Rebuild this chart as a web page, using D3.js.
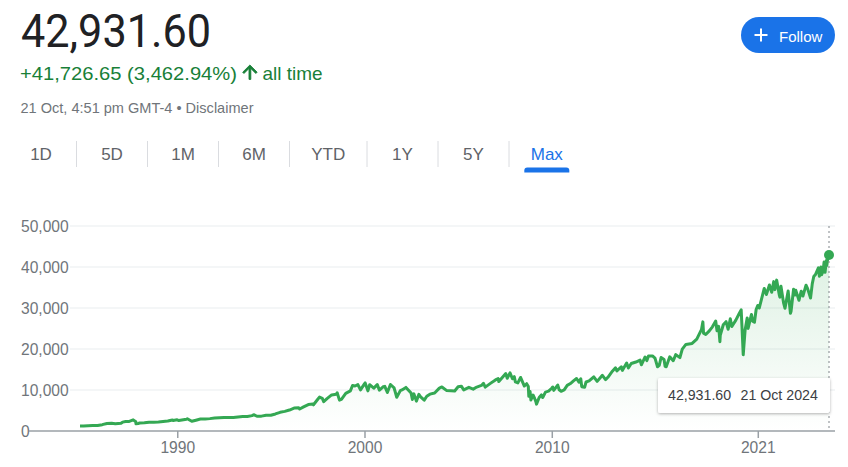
<!DOCTYPE html>
<html>
<head>
<meta charset="utf-8">
<script src="https://cdn.jsdelivr.net/npm/d3@7"></script>
<style>
  body { margin: 0; background: #fff; }
  svg { display: block; font-family: "Liberation Sans", Arial, sans-serif; }
</style>
</head>
<body>
<svg id="chart" width="848" height="467"></svg>
<script>
// closing values (approximate), with their dates
const dates = [
  "1984-10-22","1984-12-31","1985-03-29","1985-06-28","1985-09-30","1985-12-31",
  "1986-03-31","1986-06-30","1986-09-11","1986-12-31","1987-01-30","1987-03-31",
  "1987-05-29","1987-08-25","1987-10-16","1987-10-19","1987-11-30","1987-12-31",
  "1988-03-31","1988-06-30","1988-09-30","1988-12-30","1989-03-31","1989-06-30",
  "1989-09-29","1989-10-13","1989-12-29","1990-01-30","1990-06-29","1990-07-16",
  "1990-10-11","1990-12-31","1991-03-28","1991-06-28","1991-09-30","1991-12-31",
  "1992-03-31","1992-06-30","1992-09-30","1992-12-31","1993-03-31","1993-06-30",
  "1993-09-30","1993-12-31","1994-01-31","1994-04-04","1994-06-30","1994-09-30",
  "1994-12-30","1995-03-31","1995-06-30","1995-09-29","1995-12-29","1996-03-29",
  "1996-06-28","1996-07-16","1996-09-30","1996-12-31","1997-03-31","1997-04-11",
  "1997-06-30","1997-08-06","1997-09-30","1997-10-27","1997-12-31","1998-03-31",
  "1998-06-30","1998-07-17","1998-08-31","1998-10-08","1998-12-31","1999-03-31",
  "1999-05-13","1999-06-30","1999-08-25","1999-10-15","1999-12-31","2000-01-14",
  "2000-03-07","2000-04-11","2000-06-30","2000-09-06","2000-10-18","2000-12-29",
  "2001-01-31","2001-03-22","2001-05-21","2001-07-31","2001-09-21","2001-11-30",
  "2001-12-31","2002-03-19","2002-06-28","2002-07-23","2002-08-22","2002-10-09",
  "2002-11-27","2002-12-31","2003-03-11","2003-04-30","2003-06-30","2003-09-30",
  "2003-12-31","2004-02-19","2004-05-17","2004-08-13","2004-10-25","2004-12-31",
  "2005-03-04","2005-04-20","2005-07-29","2005-10-21","2005-12-30","2006-03-31",
  "2006-05-10","2006-06-13","2006-09-29","2006-12-29","2007-02-20","2007-03-05",
  "2007-07-19","2007-08-16","2007-10-09","2007-11-26","2007-12-31","2008-01-22",
  "2008-03-10","2008-05-02","2008-07-15","2008-08-29","2008-09-30","2008-10-10",
  "2008-11-04","2008-11-20","2008-12-31","2009-01-30","2009-02-27","2009-03-09",
  "2009-04-30","2009-06-12","2009-07-08","2009-08-31","2009-10-30","2009-12-31",
  "2010-01-19","2010-02-08","2010-04-26","2010-05-25","2010-07-02","2010-08-31",
  "2010-10-29","2010-12-31","2011-02-28","2011-04-29","2011-06-15","2011-07-21",
  "2011-08-08","2011-10-03","2011-10-31","2011-12-30","2012-03-30","2012-06-04",
  "2012-09-14","2012-11-15","2012-12-31","2013-03-28","2013-05-28","2013-06-24",
  "2013-09-18","2013-10-08","2013-12-31","2014-02-03","2014-03-31","2014-06-30",
  "2014-09-19","2014-10-15","2014-12-26","2015-01-30","2015-03-02","2015-05-19",
  "2015-07-07","2015-08-25","2015-09-28","2015-11-03","2015-12-31","2016-01-20",
  "2016-02-11","2016-04-20","2016-06-27","2016-08-15","2016-11-04","2016-12-20",
  "2017-03-01","2017-06-30","2017-09-29","2017-12-29","2018-01-26","2018-02-08",
  "2018-03-23","2018-05-31","2018-07-31","2018-10-03","2018-10-29","2018-11-30",
  "2018-12-24","2018-12-31","2019-02-28","2019-04-23","2019-06-03","2019-07-15",
  "2019-08-14","2019-10-31","2019-12-31","2020-02-12","2020-02-28","2020-03-23",
  "2020-04-29","2020-06-08","2020-06-26","2020-08-31","2020-09-23","2020-10-28",
  "2020-11-30","2020-12-31","2021-01-29","2021-03-31","2021-05-07","2021-06-18",
  "2021-08-16","2021-09-30","2021-11-08","2021-11-30","2021-12-29","2022-01-04",
  "2022-02-24","2022-03-08","2022-03-29","2022-05-19","2022-06-16","2022-08-16",
  "2022-09-30","2022-10-12","2022-11-30","2022-12-13","2022-12-30","2023-01-13",
  "2023-03-15","2023-04-28","2023-05-31","2023-07-31","2023-08-31","2023-10-27",
  "2023-11-30","2023-12-29","2024-01-31","2024-03-28","2024-04-17","2024-05-17",
  "2024-05-30","2024-06-28","2024-07-17","2024-08-05","2024-08-30","2024-09-06",
  "2024-09-30","2024-10-21"
];
const closes = [
  1204.95,1212,1267,1336,1329,1547,
  1819,1893,1758,1896,2158,2305,
  2292,2722,2247,1739,1834,1939,
  1989,2142,2113,2169,2294,2440,
  2693,2569,2753,2543,2881,2999,
  2365,2634,2914,2907,3017,3169,
  3236,3319,3272,3301,3436,3516,
  3555,3754,3978,3594,3625,3843,
  3834,4158,4556,4789,5117,5588,
  5655,5350,5882,6448,6584,6392,
  7673,8259,7945,7161,7908,8800,
  8952,9338,7539,7731,9181,9786,
  11107,10971,11326,10020,11497,11723,
  9796,11287,10448,11310,9975,10787,
  10887,9389,11337,10523,8236,9852,
  10022,10635,9243,7702,9054,7286,
  8932,8342,7524,8480,8985,9275,
  10454,10737,9907,9825,9750,10783,
  10941,10012,10641,10215,10718,11109,
  11642,10706,11679,12463,12786,12050,
  14000,12846,14165,12743,13265,11971,
  11740,13058,10963,11544,10851,8451,
  9625,7552,8776,8001,7063,6547,
  8168,8799,8179,9496,9713,10428,
  10725,9908,11205,10044,9686,10015,
  11118,11578,12226,12811,11897,12724,
  10810,10655,11955,12218,13212,12101,
  13593,12543,13104,14579,15410,14660,
  15676,14776,16577,15372,16458,16827,
  17280,16142,18053,17165,18288,18312,
  17776,15666,16001,17919,17425,15766,
  15660,18096,17140,18636,17888,19974,
  21115,21350,22405,24719,26617,23860,
  23533,24416,25415,26828,24443,25538,
  21792,23327,25916,26656,24815,27359,
  25480,27046,28538,29551,25409,18592,
  24634,27572,25016,28430,26763,26519,
  29638,30606,29983,32982,34778,33290,
  35625,33844,36432,34484,36488,36800,
  33224,32633,35294,31253,29927,34152,
  28726,29210,34590,34108,33147,34303,
  31875,34098,32908,35560,34722,32418,
  35951,37690,38150,39807,37753,40004,
  38112,39119,41198,38703,41563,40345,
  42330,42931.60
];
const yTicks = [0, 10000, 20000, 30000, 40000, 50000];
const xTickDates = ["1990-01-01", "2000-01-01", "2010-01-01", "2021-01-01"];
const tabs = ["1D", "5D", "1M", "6M", "YTD", "1Y", "5Y", "Max"];
const activeTab = "Max";
const stampText = "21 Oct, 4:51 pm GMT-4";

const parse = d3.timeParse("%Y-%m-%d");
const data = dates.map((d, i) => ({ date: parse(d), value: closes[i] }));
const first = data[0], last = data[data.length - 1];

const GREEN = "#34a853";
const svg = d3.select("#chart");

// ---- header ----
const fmt2 = d3.format(",.2f");
svg.append("text")
  .attr("x", 21).attr("y", 46.5)
  .attr("font-family", "Roboto, sans-serif")
  .attr("font-size", 46)
  .attr("fill", "#202124")
  .attr("textLength", 190).attr("lengthAdjust", "spacingAndGlyphs")
  .text(fmt2(last.value));

const change = last.value - first.value;
svg.append("text")
  .attr("x", 20).attr("y", 80)
  .attr("font-size", 19)
  .attr("fill", "#188038")
  .attr("textLength", 217).attr("lengthAdjust", "spacingAndGlyphs")
  .text(d3.format("+,.2f")(change) + " (" + fmt2(change / first.value * 100) + "%)");

// up arrow
svg.append("path")
  .attr("d", "M4 12l1.41 1.41L11 7.83V20h2V7.83l5.58 5.59L20 12l-8-8-8 8z")
  .attr("transform", "translate(239.1,61.4) scale(0.9)")
  .attr("fill", "#188038")
  .attr("stroke", "#188038").attr("stroke-width", 1);

svg.append("text")
  .attr("x", 262.5).attr("y", 80)
  .attr("font-size", 19)
  .attr("fill", "#188038")
  .attr("textLength", 60).attr("lengthAdjust", "spacingAndGlyphs")
  .text("all time");

svg.append("text")
  .attr("x", 20.5).attr("y", 112.5)
  .attr("font-size", 15)
  .attr("fill", "#70757a")
  .attr("textLength", 233).attr("lengthAdjust", "spacingAndGlyphs")
  .text(stampText + " \u2022 Disclaimer");

// follow button
const btn = svg.append("g");
btn.append("rect")
  .attr("x", 741).attr("y", 17).attr("width", 94).attr("height", 36).attr("rx", 18)
  .attr("fill", "#1a73e8");
btn.append("path")
  .attr("d", "M754.5,35H767.5M761,28.5V41.5")
  .attr("stroke", "#fff").attr("stroke-width", 2);
btn.append("text")
  .attr("x", 779).attr("y", 41.5)
  .attr("font-size", 15)
  .attr("fill", "#fff")
  .text("Follow");

// ---- range tabs ----
const tabG = svg.append("g");
let tx = 5.5;
tabs.forEach((t, i) => {
  const label = tabG.append("text")
    .attr("y", 160)
    .attr("font-size", 17)
    .attr("text-anchor", "middle")
    .attr("fill", t === activeTab ? "#1a73e8" : "#5f6368")
    .text(t);
  const w = Math.max(71, label.node().getComputedTextLength() + 43.5);
  label.attr("x", tx + w / 2);
  if (i > 0) {
    tabG.append("line")
      .attr("x1", tx).attr("x2", tx).attr("y1", 141).attr("y2", 167)
      .attr("stroke", "#dadce0").attr("stroke-width", 1);
  }
  if (t === activeTab) {
    const cx = tx + w / 2, hw = 22.5;
    tabG.append("path")
      .attr("d", `M${cx - hw},172.5V170.5a3,3 0 0 1 3,-3H${cx + hw - 3}a3,3 0 0 1 3,3V172.5Z`)
      .attr("fill", "#1a73e8");
  }
  tx += w;
});

// ---- chart ----
const x = d3.scaleTime()
  .domain([first.date, last.date])
  .range([80, 829]);
const y = d3.scaleLinear()
  .domain([0, 50000])
  .range([431, 226]);

// grid lines
svg.append("g")
  .selectAll("line")
  .data(yTicks.filter(d => d > 0))
  .join("line")
  .attr("x1", 70).attr("x2", 835)
  .attr("y1", d => y(d)).attr("y2", d => y(d))
  .attr("stroke", "#f1f3f4").attr("stroke-width", 1.5);

// y labels
const yAxis = svg.append("g")
  .attr("transform", "translate(21,0)")
  .call(d3.axisLeft(y).tickValues(yTicks).tickSize(0).tickFormat(d3.format(",")));
yAxis.select(".domain").remove();
yAxis.selectAll("text")
  .attr("x", 0)
  .attr("text-anchor", "start")
  .attr("font-family", "Liberation Sans, Arial, sans-serif")
  .attr("font-size", 15.6)
  .attr("fill", "#70757a");

// area + line
const grad = svg.append("defs").append("linearGradient")
  .attr("id", "fade").attr("gradientUnits", "userSpaceOnUse")
  .attr("x1", 0).attr("x2", 0).attr("y1", y(45000)).attr("y2", y(0));
grad.append("stop").attr("offset", 0).attr("stop-color", GREEN).attr("stop-opacity", 0.17);
grad.append("stop").attr("offset", 1).attr("stop-color", GREEN).attr("stop-opacity", 0);

svg.append("path")
  .datum(data)
  .attr("fill", "url(#fade)")
  .attr("d", d3.area().x(d => x(d.date)).y0(y(0)).y1(d => y(d.value)));

svg.append("path")
  .datum(data)
  .attr("fill", "none")
  .attr("stroke", GREEN)
  .attr("stroke-width", 3)
  .attr("stroke-linejoin", "round")
  .attr("d", d3.line().x(d => x(d.date)).y(d => y(d.value)));

// baseline + x axis
svg.append("line")
  .attr("x1", 29).attr("x2", 835).attr("y1", y(0)).attr("y2", y(0))
  .attr("stroke", "#9aa0a6").attr("stroke-width", 1.6);

const xAxis = svg.append("g")
  .attr("transform", `translate(0,${y(0)})`)
  .call(d3.axisBottom(x).tickValues(xTickDates.map(parse)).tickSize(7).tickFormat(d3.timeFormat("%Y")));
xAxis.select(".domain").remove();
xAxis.selectAll(".tick line").attr("stroke", "#9aa0a6").attr("stroke-width", 1.5);
xAxis.selectAll("text")
  .attr("y", 22).attr("dy", 0)
  .attr("font-family", "Liberation Sans, Arial, sans-serif")
  .attr("font-size", 15.6)
  .attr("fill", "#70757a");

// cursor at last point
svg.append("line")
  .attr("x1", x(last.date)).attr("x2", x(last.date))
  .attr("y1", 226).attr("y2", y(0))
  .attr("stroke", "#80868b").attr("stroke-width", 1).attr("stroke-dasharray", "2,3");

svg.append("circle")
  .attr("cx", x(last.date)).attr("cy", y(last.value)).attr("r", 5)
  .attr("fill", GREEN);

// tooltip
const shadow = svg.select("defs").append("filter")
  .attr("id", "shadow").attr("x", "-10%").attr("y", "-30%").attr("width", "120%").attr("height", "170%");
shadow.append("feDropShadow")
  .attr("dx", 0).attr("dy", 1).attr("stdDeviation", 1.5)
  .attr("flood-color", "#000").attr("flood-opacity", 0.3);

const tipR = x(last.date) + 1;
const tip = svg.append("g");
tip.append("rect")
  .attr("x", tipR - 172).attr("y", 378).attr("width", 172).attr("height", 35).attr("rx", 2)
  .attr("fill", "#fff").attr("filter", "url(#shadow)");
tip.append("text")
  .attr("x", tipR - 162).attr("y", 400)
  .attr("font-size", 14.2).attr("fill", "#3c4043")
  .text(fmt2(last.value));
tip.append("text")
  .attr("x", tipR - 89.5).attr("y", 400)
  .attr("font-size", 14.2).attr("fill", "#3c4043")
  .text(d3.timeFormat("%-d %b %Y")(last.date));
</script>
</body>
</html>
